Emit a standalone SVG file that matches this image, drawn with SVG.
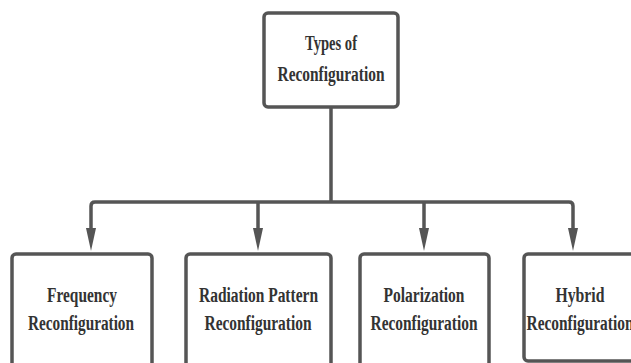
<svg xmlns="http://www.w3.org/2000/svg" width="631" height="363" viewBox="0 0 631 363">
<defs>
<style>
.box{fill:#fff;stroke:#555;stroke-width:3.5}
.t{font-family:"Liberation Serif","DejaVu Serif",serif;font-size:20px;font-weight:bold;fill:#333;text-anchor:middle}
.c{fill:none;stroke:#555;stroke-width:3.5}
.ah{fill:#555}
</style>
</defs>
<rect width="631" height="363" fill="#fff"/>
<g id="connectors">
<path class="c" d="M331,107 V202"/>
<path class="c" d="M91,230 V206 Q91,202 95,202 H569 Q573,202 573,206 V230"/>
<path class="c" d="M258,202 V230"/>
<path class="c" d="M424,202 V230"/>
<path class="ah" d="M86,228 L91,251 L96,228 Z"/>
<path class="ah" d="M253,228 L258,251 L263,228 Z"/>
<path class="ah" d="M419,228 L424,251 L429,228 Z"/>
<path class="ah" d="M568,228 L573,251 L578,228 Z"/>
</g>
<g id="root">
<rect class="box" x="264" y="13" width="134" height="94" rx="4"/>
<text class="t" x="331" y="50" textLength="52" lengthAdjust="spacingAndGlyphs">Types of</text>
<text class="t" x="331" y="81" textLength="107" lengthAdjust="spacingAndGlyphs">Reconfiguration</text>
</g>
<g id="frequency">
<rect class="box" x="12" y="254" width="140" height="120" rx="4"/>
<text class="t" x="82" y="302" textLength="70" lengthAdjust="spacingAndGlyphs">Frequency</text>
<text class="t" x="81" y="330" textLength="106" lengthAdjust="spacingAndGlyphs">Reconfiguration</text>
</g>
<g id="radiation">
<rect class="box" x="186" y="254" width="145" height="120" rx="4"/>
<text class="t" x="258.5" y="302" textLength="119" lengthAdjust="spacingAndGlyphs">Radiation Pattern</text>
<text class="t" x="258" y="330" textLength="107" lengthAdjust="spacingAndGlyphs">Reconfiguration</text>
</g>
<g id="polarization">
<rect class="box" x="360" y="254" width="129" height="120" rx="4"/>
<text class="t" x="424" y="302" textLength="81" lengthAdjust="spacingAndGlyphs">Polarization</text>
<text class="t" x="424" y="330" textLength="107" lengthAdjust="spacingAndGlyphs">Reconfiguration</text>
</g>
<g id="hybrid">
<rect class="box" x="524" y="254" width="120" height="107" rx="4"/>
<text class="t" x="580" y="302" textLength="49" lengthAdjust="spacingAndGlyphs">Hybrid</text>
<text class="t" x="580" y="330" textLength="107" lengthAdjust="spacingAndGlyphs">Reconfiguration</text>
</g>
</svg>
